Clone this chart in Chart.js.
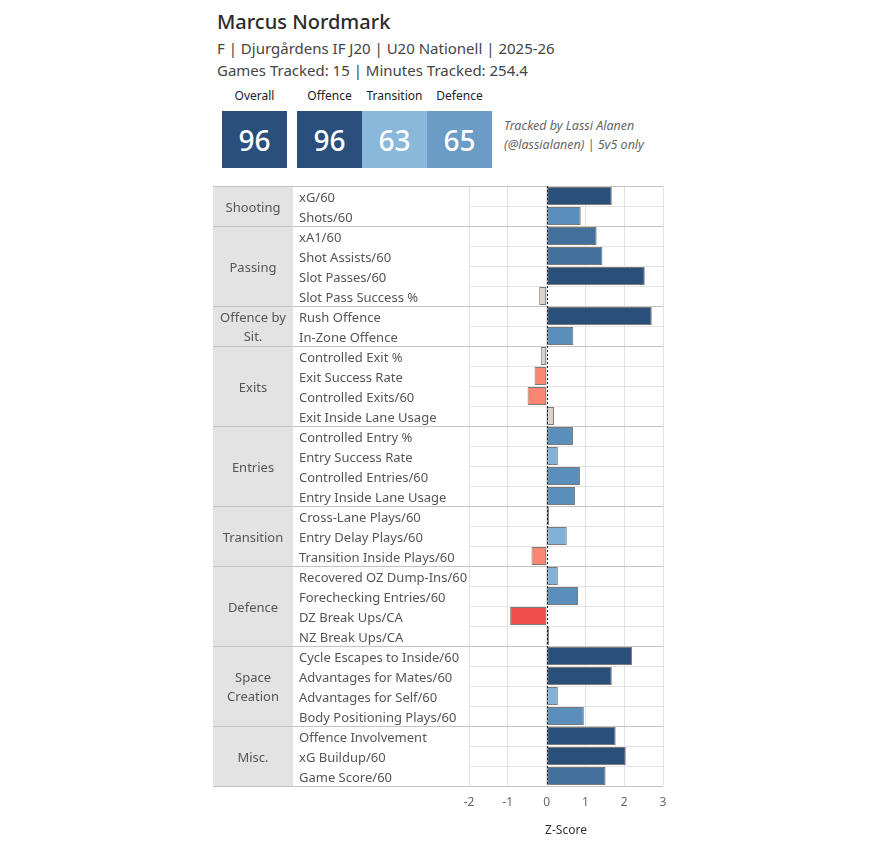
<!DOCTYPE html>
<html>
<head>
<meta charset="utf-8">
<script src="https://cdn.jsdelivr.net/npm/chart.js@4.4.0/dist/chart.umd.min.js"></script>
<style>
  body { margin: 0; background: #fff; font-family: "Noto Sans", sans-serif; }
  #page { position: relative; width: 889px; height: 848px; }
  .t { position: absolute; white-space: nowrap; }
  #title { left: 217px; top: 8px; font-size: 20px; font-weight: 500; color: #2b2b2b; }
  .sub { left: 217px; font-size: 15px; color: #444; }
  .slabel { position: absolute; top: 87px; font-size: 12px; font-weight: 400; color: #222; text-align: center; width: 66px; }
  .box { position: absolute; top: 111px; height: 57px; width: 65px; color: #fff; font-size: 28px; font-weight: 500;
         display: flex; align-items: center; justify-content: center; }
  .note { left: 504px; font-size: 12.5px; font-style: italic; color: #666; }
  #wrap { position: absolute; left: 213px; top: 185px; }
</style>
</head>
<body>
<div id="page">
  <div id="title" class="t">Marcus Nordmark</div>
  <div class="t sub" style="top:38px">F | Djurgårdens IF J20 | U20 Nationell | 2025-26</div>
  <div class="t sub" style="top:60px">Games Tracked: 15 | Minutes Tracked: 254.4</div>
  <div id="scores"></div>
  <div class="t note" style="top:117px">Tracked by Lassi Alanen</div>
  <div class="t note" style="top:136px">(@lassialanen) | 5v5 only</div>
  <div id="wrap"><canvas id="chart" width="460" height="661"></canvas></div>
</div>
<script>
const scoreLabels = ['Overall', 'Offence', 'Transition', 'Defence'];
const scoreValues = [96, 96, 63, 65];

const groups = [['Shooting'], ['Passing'], ['Offence by', 'Sit.'], ['Exits'], ['Entries'],
  ['Transition'], ['Defence'], ['Space', 'Creation'], ['Misc.']];
const groupSizes = [2, 4, 2, 4, 4, 3, 4, 4, 3];

const metrics = [
  'xG/60', 'Shots/60',
  'xA1/60', 'Shot Assists/60', 'Slot Passes/60', 'Slot Pass Success %',
  'Rush Offence', 'In-Zone Offence',
  'Controlled Exit %', 'Exit Success Rate', 'Controlled Exits/60', 'Exit Inside Lane Usage',
  'Controlled Entry %', 'Entry Success Rate', 'Controlled Entries/60', 'Entry Inside Lane Usage',
  'Cross-Lane Plays/60', 'Entry Delay Plays/60', 'Transition Inside Plays/60',
  'Recovered OZ Dump-Ins/60', 'Forechecking Entries/60', 'DZ Break Ups/CA', 'NZ Break Ups/CA',
  'Cycle Escapes to Inside/60', 'Advantages for Mates/60', 'Advantages for Self/60', 'Body Positioning Plays/60',
  'Offence Involvement', 'xG Buildup/60', 'Game Score/60'
];
const zScores = [
  1.68, 0.88,
  1.29, 1.44, 2.53, -0.19,
  2.71, 0.69,
  -0.15, -0.31, -0.49, 0.19,
  0.68, 0.29, 0.86, 0.73,
  0.06, 0.52, -0.39,
  0.29, 0.81, -0.94, 0.06,
  2.20, 1.68, 0.29, 0.96,
  1.78, 2.04, 1.52
];
const xTicks = [-2, -1, 0, 1, 2, 3];

// colour scale used for boxes and bars
function scoreColor(s) {
  if (s >= 80) return '#2b4f7c';
  if (s >= 64) return '#6a9cc6';
  return '#8ab8da';
}
function barColor(v) {
  if (v >= 1.6) return '#2b4f7b';
  if (v >= 1.1) return '#436f9d';
  if (v >= 0.6) return '#5b8fbb';
  if (v >= 0.22) return '#82b1d7';
  if (v > -0.22) return '#dcd1cd';
  if (v > -0.7) return '#fa8570';
  return '#f04f4b';
}

// score boxes
const scoresEl = document.getElementById('scores');
const boxLefts = [222, 297, 362, 427];
scoreLabels.forEach((lab, i) => {
  const l = document.createElement('div');
  l.className = 'slabel';
  l.style.left = (boxLefts[i] - 0.5) + 'px';
  l.textContent = lab;
  scoresEl.appendChild(l);
  const b = document.createElement('div');
  b.className = 'box';
  b.style.left = boxLefts[i] + 'px';
  b.style.background = scoreColor(scoreValues[i]);
  b.textContent = scoreValues[i];
  scoresEl.appendChild(b);
});

// rows where a new group starts
const groupStarts = [];
let acc = 0;
groupSizes.forEach(n => { groupStarts.push(acc); acc += n; });
groupStarts.push(acc);

const tablePlugin = {
  id: 'table',
  beforeDraw(chart) {
    const {ctx, chartArea} = chart;
    ctx.save();
    ctx.fillStyle = '#e3e3e3';
    ctx.fillRect(0, chartArea.top, 80, chartArea.bottom - chartArea.top);
    ctx.restore();
  },
  afterDraw(chart) {
    const {ctx, chartArea, scales} = chart;
    const rowH = (chartArea.bottom - chartArea.top) / metrics.length;
    ctx.save();
    // group separators and outer borders
    ctx.strokeStyle = '#c4c4c4';
    ctx.lineWidth = 1;
    groupStarts.forEach(r => {
      const y = Math.round(chartArea.top + r * rowH) + 0.5;
      ctx.beginPath();
      ctx.moveTo(0, y);
      ctx.lineTo(chartArea.right, y);
      ctx.stroke();
    });
    // group labels
    ctx.fillStyle = '#555';
    ctx.font = '13px "Noto Sans"';
    ctx.textAlign = 'center';
    ctx.textBaseline = 'middle';
    groups.forEach((lines, g) => {
      const mid = chartArea.top + (groupStarts[g] + groupSizes[g] / 2) * rowH + 2;
      lines.forEach((t, k) => {
        ctx.fillText(t, 40, mid + (k - (lines.length - 1) / 2) * 19);
      });
    });
    // dotted zero line
    const x0 = Math.round(scales.x.getPixelForValue(0)) + 0.5;
    ctx.strokeStyle = '#222';
    ctx.setLineDash([2, 2]);
    ctx.beginPath();
    ctx.moveTo(x0, chartArea.top);
    ctx.lineTo(x0, chartArea.bottom);
    ctx.stroke();
    ctx.restore();
  }
};

new Chart(document.getElementById('chart'), {
  type: 'bar',
  data: {
    labels: metrics,
    datasets: [{
      data: zScores,
      backgroundColor: zScores.map(barColor),
      borderColor: '#7a7a7a',
      borderWidth: 1,
      borderSkipped: false,
      barPercentage: 0.9,
      categoryPercentage: 1
    }]
  },
  options: {
    indexAxis: 'y',
    responsive: false,
    animation: false,
    devicePixelRatio: 1,
    layout: { padding: { left: 86, right: 10, top: 1, bottom: 0 } },
    plugins: { legend: { display: false }, tooltip: { enabled: false } },
    scales: {
      x: {
        type: 'linear',
        min: xTicks[0],
        max: xTicks[xTicks.length - 1],
        afterBuildTicks: s => { s.ticks = xTicks.map(v => ({ value: v })); },
        afterFit: s => { s.height = 60; s.paddingLeft = 0; s.paddingRight = 0; },
        ticks: { color: '#666', font: { family: 'Noto Sans', size: 12 }, padding: 9 },
        grid: { color: '#e2e2e2', drawTicks: false },
        border: { display: false },
        title: { display: true, text: 'Z-Score', color: '#333', font: { family: 'Noto Sans', size: 12 },
                 padding: { top: 4, bottom: 8 } }
      },
      y: {
        afterFit: s => { s.width = 170; s.paddingTop = 0; s.paddingBottom = 0; },
        ticks: { crossAlign: 'far', color: '#555', font: { family: 'Noto Sans', size: 13 }, padding: 0,
                 autoSkip: false, labelOffset: 2 },
        grid: { offset: true, drawTicks: false, color: '#e4e4e4' },
        border: { display: false }
      }
    }
  },
  plugins: [tablePlugin]
});
</script>
</body>
</html>
